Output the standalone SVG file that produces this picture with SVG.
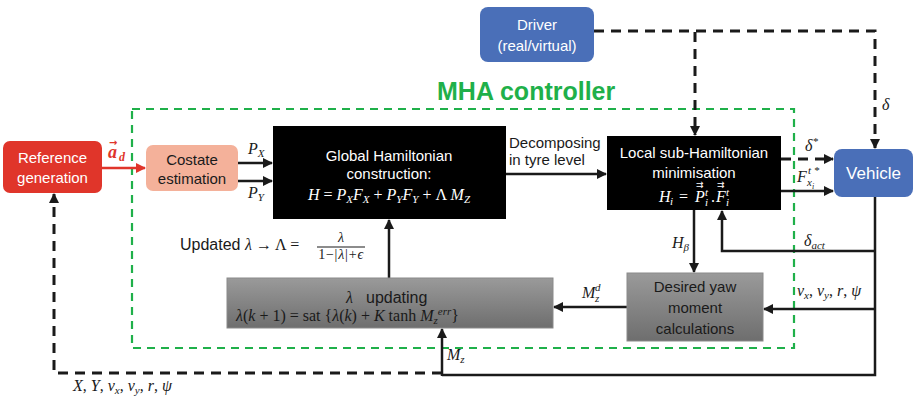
<svg xmlns="http://www.w3.org/2000/svg" width="917" height="399" viewBox="0 0 917 399">
  <style>
    .sans { font-family: "Liberation Sans", Arial, sans-serif; font-size: 15px; }
    .math { font-family: "Liberation Serif", "DejaVu Serif", serif; font-style: italic; font-size: 16px; }
    .up { font-style: normal; }
    .s14 { font-size: 14px; }
    .s11 { font-size: 11px; }
    .s8 { font-size: 8px; }
    .vec { font-family: "DejaVu Sans", sans-serif; font-style: normal; font-size: 9px; }
    .w { fill: #ffffff; }
    .k { fill: #1a1a1a; }
    .solid { stroke: #1a1a1a; stroke-width: 2.5; fill: none; }
    .dash { stroke: #1a1a1a; stroke-width: 3; fill: none; stroke-dasharray: 10 7; }
  </style>
  <defs>
    <marker id="ah" viewBox="0 0 10 10" refX="9" refY="5" markerWidth="4" markerHeight="4" orient="auto" markerUnits="strokeWidth">
      <path d="M0,0 L10,5 L0,10 Z" fill="#1a1a1a"/>
    </marker>
    <marker id="ahd" viewBox="0 0 10 10" refX="9" refY="5" markerWidth="3.4" markerHeight="3.4" orient="auto" markerUnits="strokeWidth">
      <path d="M0,0 L10,5 L0,10 Z" fill="#1a1a1a"/>
    </marker>
    <marker id="ahr" viewBox="0 0 10 10" refX="9" refY="5" markerWidth="4" markerHeight="4" orient="auto" markerUnits="strokeWidth">
      <path d="M0,0 L10,5 L0,10 Z" fill="#e0352a"/>
    </marker>
    <linearGradient id="grey" x1="0" y1="0" x2="0" y2="1">
      <stop offset="0" stop-color="#9a9a9a"/>
      <stop offset="1" stop-color="#6e6e6e"/>
    </linearGradient>
  </defs>

  <!-- controller boundary -->
  <g id="mha-controller">
    <rect x="132" y="109" width="662" height="239" fill="none" stroke="#1fb04a" stroke-width="2.2" stroke-dasharray="8 6"/>
    <text x="437" y="100" font-family="Liberation Sans, Arial, sans-serif" font-size="25" font-weight="bold" fill="#1fb04a">MHA controller</text>
  </g>

  <!-- connectors -->
  <g id="connectors">
    <!-- reference to costate -->
    <line x1="102" y1="168" x2="145" y2="168" stroke="#e0352a" stroke-width="2.5" marker-end="url(#ahr)"/>
    <!-- costates -->
    <line class="solid" x1="238" y1="163" x2="272" y2="163" marker-end="url(#ah)"/>
    <line class="solid" x1="238" y1="181" x2="272" y2="181" marker-end="url(#ah)"/>
    <!-- decomposing -->
    <line class="solid" x1="506" y1="174" x2="606" y2="174" marker-end="url(#ah)"/>
    <!-- driver -->
    <path class="dash" d="M594,31 H875 V148" marker-end="url(#ahd)"/>
    <path class="dash" d="M695,32 V135" marker-end="url(#ahd)"/>
    <!-- to vehicle -->
    <line class="dash" x1="781" y1="159" x2="833" y2="159" marker-end="url(#ahd)"/>
    <line class="solid" x1="781" y1="191" x2="833" y2="191" marker-end="url(#ah)"/>
    <!-- vehicle feedback -->
    <path class="solid" d="M875,197 V375 H442"/>
    <path class="solid" d="M875,251 H722 V211" marker-end="url(#ah)"/>
    <line class="solid" x1="875" y1="309" x2="764" y2="309" marker-end="url(#ah)"/>
    <!-- H beta -->
    <line class="solid" x1="694" y1="210" x2="694" y2="272" marker-end="url(#ah)"/>
    <!-- Mz desired -->
    <line class="solid" x1="627" y1="307" x2="554" y2="307" marker-end="url(#ah)"/>
    <!-- lambda update up to global -->
    <line class="solid" x1="389" y1="278" x2="389" y2="220" marker-end="url(#ah)"/>
    <!-- Mz into lambda -->
    <line class="solid" x1="442" y1="376" x2="442" y2="329" marker-end="url(#ah)"/>
    <!-- states back to reference -->
    <path class="dash" d="M442,373 H54 V194" marker-end="url(#ahd)"/>
  </g>

  <g id="reference-generation">
    <rect x="3" y="141" width="99" height="52" rx="7" fill="#e0352a"/>
    <text class="sans w" x="52.5" y="163" text-anchor="middle">Reference</text>
    <text class="sans w" x="52.5" y="183" text-anchor="middle">generation</text>
  </g>

  <g id="costate-estimation">
    <rect x="146" y="145" width="92" height="46" rx="7" fill="#f4b19a"/>
    <text class="sans k" x="192" y="165" text-anchor="middle">Costate</text>
    <text class="sans k" x="192" y="184" text-anchor="middle">estimation</text>
  </g>

  <g id="global-hamiltonian">
    <rect x="273" y="126" width="233" height="93" fill="#000000"/>
    <text class="sans w" x="389" y="161" text-anchor="middle">Global Hamiltonian</text>
    <text class="sans w" x="389" y="179" text-anchor="middle">construction:</text>
    <text class="math w" x="389" y="200" text-anchor="middle">H <tspan class="up">=</tspan> P<tspan class="s11" dy="3">X</tspan><tspan dy="-3">F</tspan><tspan class="s11" dy="3">X</tspan><tspan class="up" dy="-3"> + </tspan>P<tspan class="s11" dy="3">Y</tspan><tspan dy="-3">F</tspan><tspan class="s11" dy="3">Y</tspan><tspan class="up" dy="-3"> + Λ </tspan>M<tspan class="s11" dy="3">Z</tspan></text>
  </g>

  <g id="local-sub-hamiltonian">
    <rect x="607" y="136" width="174" height="74" fill="#000000"/>
    <text class="sans w" x="694" y="158" text-anchor="middle">Local sub-Hamiltonian</text>
    <text class="sans w" x="694" y="178" text-anchor="middle">minimisation</text>
    <text class="math w" x="659" y="202">H</text>
    <text class="math w s11" x="670" y="205">i</text>
    <text class="math w up" x="679" y="202">=</text>
    <text class="math w" x="695" y="202">P</text>
    <text class="vec w" x="696" y="189">→</text>
    <text class="vec w" x="696" y="186">→</text>
    <text class="math w s11" x="705" y="196">t</text>
    <text class="math w s11" x="705" y="206">i</text>
    <text class="math w up" x="711" y="202">.</text>
    <text class="math w" x="716" y="202">F</text>
    <text class="vec w" x="717" y="189">→</text>
    <text class="vec w" x="717" y="186">→</text>
    <text class="math w s11" x="726" y="196">t</text>
    <text class="math w s11" x="726" y="206">i</text>
  </g>

  <g id="driver">
    <rect x="480" y="7" width="114" height="55" rx="8" fill="#4a6fb8"/>
    <text class="sans w" x="537" y="30" text-anchor="middle">Driver</text>
    <text class="sans w" x="537" y="51" text-anchor="middle">(real/virtual)</text>
  </g>

  <g id="vehicle">
    <rect x="834" y="149" width="79" height="48" rx="8" fill="#4a6fb8"/>
    <text class="sans w" x="873.5" y="179" text-anchor="middle" style="font-size:17px">Vehicle</text>
  </g>

  <g id="desired-yaw-moment">
    <rect x="627" y="273" width="136" height="68" fill="url(#grey)" stroke="#8a8a8a" stroke-width="1"/>
    <text class="sans k" x="695" y="292" text-anchor="middle">Desired yaw</text>
    <text class="sans k" x="695" y="313" text-anchor="middle">moment</text>
    <text class="sans k" x="695" y="334" text-anchor="middle">calculations</text>
  </g>

  <g id="lambda-updating">
    <rect x="227" y="278" width="326" height="50" fill="url(#grey)" stroke="#8a8a8a" stroke-width="1"/>
    <text class="math k" x="346" y="303">λ</text>
    <text class="sans k" x="366" y="303" style="font-size:16px">updating</text>
    <text class="math k" x="236" y="321">λ<tspan class="up">(</tspan>k<tspan class="up"> + 1) = sat {</tspan>λ<tspan class="up">(</tspan>k<tspan class="up">) + </tspan>K<tspan class="up"> tanh </tspan>M<tspan class="s11" dy="3">z</tspan><tspan class="s11" dy="-9">err</tspan><tspan class="up" dy="6">}</tspan></text>
  </g>

  <!-- signal labels -->
  <g id="labels">
    <text class="math" x="108" y="158" fill="#e0352a" font-weight="bold" style="font-size:18px">a</text>
    <text class="vec" x="109" y="146" fill="#e0352a" font-weight="bold" style="font-size:10px">→</text>
    <text class="math" x="119" y="161" fill="#e0352a" font-weight="bold" style="font-size:12px">d</text>
    <text class="math k" x="248" y="154">P<tspan class="s11" dy="3">X</tspan></text>
    <text class="math k" x="248" y="198">P<tspan class="s11" dy="3">Y</tspan></text>
    <text class="sans k" x="509" y="148">Decomposing</text>
    <text class="sans k" x="509" y="165">in tyre level</text>
    <text class="math k" x="805" y="151">δ<tspan class="s11" dy="-6">*</tspan></text>
    <text class="math k" x="797" y="182">F</text>
    <text class="math k s11" x="807" y="186">x</text>
    <text class="math k s8" x="812" y="189">i</text>
    <text class="math k s11" x="808" y="174">t *</text>
    <text class="math k" x="882" y="110">δ</text>
    <text class="math k" x="804" y="246">δ<tspan class="s11" dy="3">act</tspan></text>
    <text class="math k" x="672" y="248">H<tspan class="s11" dy="3">β</tspan></text>
    <text class="math k" x="582" y="298">M</text>
    <text class="math k s11" x="595" y="302">z</text>
    <text class="math k s11" x="595" y="291">d</text>
    <text class="math k" x="797" y="296">v<tspan class="s11" dy="3">x</tspan><tspan class="up" dy="-3">, </tspan>v<tspan class="s11" dy="3">y</tspan><tspan class="up" dy="-3">, </tspan>r<tspan class="up">, </tspan>ψ</text>
    <text class="math k" x="447" y="360">M<tspan class="s11" dy="3">z</tspan></text>
    <text class="math k" x="73" y="391">X<tspan class="up">, </tspan>Y<tspan class="up">, </tspan>v<tspan class="s11" dy="3">x</tspan><tspan class="up" dy="-3">, </tspan>v<tspan class="s11" dy="3">y</tspan><tspan class="up" dy="-3">, </tspan>r<tspan class="up">, </tspan>ψ</text>
    <text class="sans k" x="180" y="250" style="font-size:16px">Updated <tspan class="math">λ</tspan><tspan class="math up"> → Λ =</tspan></text>
    <text class="math k s14" x="341" y="242" text-anchor="middle">λ</text>
    <line x1="317" y1="247" x2="365" y2="247" stroke="#1a1a1a" stroke-width="1.2"/>
    <text class="math k s14" x="341" y="259" text-anchor="middle" letter-spacing="0.8"><tspan class="up">1−|</tspan>λ<tspan class="up">|+</tspan>ϵ</text>
  </g>
</svg>
